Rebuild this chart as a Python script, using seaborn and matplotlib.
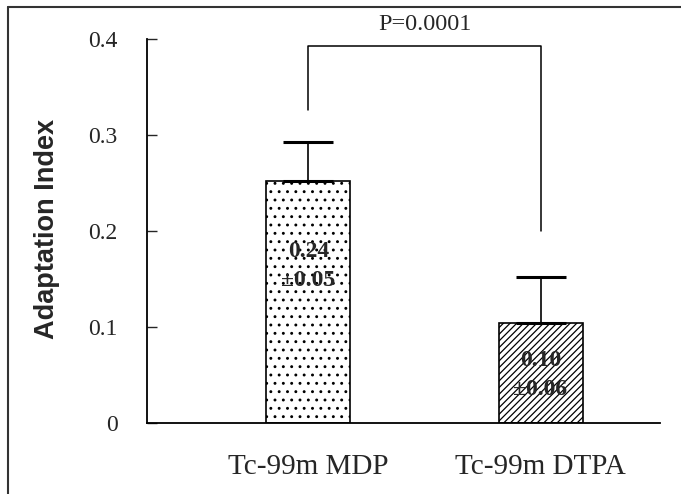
import matplotlib
matplotlib.use('Agg')
import matplotlib.pyplot as plt
import seaborn as sns
import pandas as pd
from matplotlib.lines import Line2D

# Valores
grupos = ['Tc-99m MDP', 'Tc-99m DTPA']
medias = [0.252, 0.104]
erros = [0.041, 0.048]
rotulos = ['0.24\n±0.05', '0.10\n±0.06']
rotulos_y = [0.164, 0.050]
hachuras = ['..', '/////']
p_texto = 'P=0.0001'

sns.set_style('white')
plt.rcParams['font.family'] = ['Liberation Serif', 'DejaVu Serif']
plt.rcParams['hatch.linewidth'] = 0.9

dados = pd.DataFrame({'grupo': grupos, 'valor': medias})

fig = plt.figure(figsize=(6.81, 4.94), dpi=100)
ax = fig.add_axes([147 / 681, 71 / 494, 513 / 681, 384 / 494])

sns.barplot(data=dados, x='grupo', y='valor', ax=ax, color='white',
            edgecolor='black', linewidth=1.2, width=0.362, errorbar=None,
            zorder=2)
for barra, h in zip(ax.patches, hachuras):
    barra.set_hatch(h)
    barra.set_edgecolor('black')

# Barras de erro (só para cima)
ax.errorbar(range(len(grupos)), medias, yerr=[[0] * len(erros), erros],
            fmt='none', ecolor='black', elinewidth=1.2, capsize=18,
            capthick=2.2, zorder=3)

# Valores dentro das barras
for i, (txt, yy) in enumerate(zip(rotulos, rotulos_y)):
    ax.text(i, yy, txt, ha='center', va='center', fontsize=17,
            fontweight='bold', linespacing=1.5, zorder=4)

# Colchete de significância
ax.plot([0, 0, 1, 1], [0.326, 0.393, 0.393, 0.2], color='black', lw=1.1,
        clip_on=False)
ax.text(0.5, 0.4146, p_texto, ha='center', va='center', fontsize=17.5,
        clip_on=False)

ax.set_ylim(0, 0.4)
ax.set_xlim(-0.696, 1.515)
ax.set_yticks([0, 0.1, 0.2, 0.3, 0.4])
ax.set_yticklabels(['0', '0.1', '0.2', '0.3', '0.4'], fontsize=17)
ax.tick_params(axis='y', direction='in', length=7, width=1, pad=21,
               left=True)
ax.tick_params(axis='x', length=0, pad=22, labelsize=21)
ax.set_xlabel('')
ax.set_ylabel('Adaptation Index', fontsize=19.5, fontweight='bold',
              family='Liberation Sans')
ax.yaxis.set_label_coords(-0.17, 0.505)
for lado in ['top', 'right']:
    ax.spines[lado].set_visible(False)
for lado in ['left', 'bottom']:
    ax.spines[lado].set_color('black')
    ax.spines[lado].set_linewidth(1.3)

# Moldura da figura (esquerda e topo)
fig.add_artist(Line2D([8 / 681, 8 / 681], [0, 1 - 7 / 494],
                      transform=fig.transFigure, color='#333333', lw=1.5))
fig.add_artist(Line2D([8 / 681, 1], [1 - 7 / 494, 1 - 7 / 494],
                      transform=fig.transFigure, color='#333333', lw=1.5))

fig.savefig('out.png', dpi=100)
